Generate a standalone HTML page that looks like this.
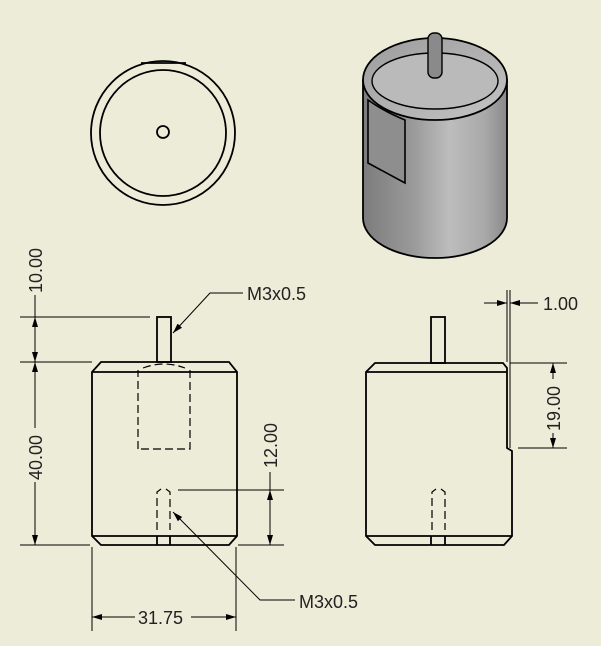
<!DOCTYPE html>
<html><head><meta charset="utf-8"><style>
html,body{margin:0;padding:0;background:#EDECD9;}
svg{display:block;}
text{font-family:"Liberation Sans","DejaVu Sans",sans-serif;font-size:18px;fill:#222;}
</style></head><body>
<svg width="601" height="646" viewBox="0 0 601 646" xmlns="http://www.w3.org/2000/svg">
<defs>
<marker id="a" viewBox="0 0 10 6" refX="10" refY="3" markerWidth="10" markerHeight="6" orient="auto-start-reverse" markerUnits="userSpaceOnUse"><path d="M0,0 L10,3 L0,6 z" fill="#000"/></marker>
<linearGradient id="cyl" x1="0" x2="1" y1="0" y2="0">
<stop offset="0" stop-color="#7c7c7c"/><stop offset="0.35" stop-color="#9a9a9a"/><stop offset="0.6" stop-color="#bdbdbd"/><stop offset="0.85" stop-color="#a8a8a8"/><stop offset="1" stop-color="#8a8a8a"/></linearGradient>
<linearGradient id="top" x1="0" x2="1" y1="0" y2="1"><stop offset="0" stop-color="#9c9c9c"/><stop offset="1" stop-color="#c4c4c4"/></linearGradient>
</defs>
<g fill="none" stroke="#000" stroke-width="1.8">
<!-- top view -->
<circle cx="163" cy="133" r="72"/>
<circle cx="163" cy="133" r="63"/>
<line x1="141" y1="63" x2="186" y2="63"/>
<circle cx="163" cy="132" r="6"/>

<!-- iso view -->
<path d="M363,80 L363,218 A72,40 0 0 0 507,218 L507,80 Z" fill="url(#cyl)"/>
<path d="M363,80 A72,42 0 0 1 507,80 A72,40 0 0 1 363,80 Z" fill="url(#top)"/>
<ellipse cx="435" cy="81" rx="63" ry="28" fill="#bababa" stroke-width="1.4"/>
<path d="M368,100 L368,163 L405,183 L405,120 Q385,112 368,100 Z" fill="#8e8e8e" stroke-width="1.6"/>
<rect x="428" y="33" width="14" height="45" rx="6" fill="#8a8a8a" stroke-width="1.4"/>

<!-- front view -->
<path d="M101,362 L229,362 L237,372 L237,536 L229,545 L101,545 L92,536 L92,372 Z"/>
<line x1="92" y1="372" x2="237" y2="372"/>
<line x1="92" y1="536" x2="237" y2="536"/>
<rect x="157" y="317" width="14" height="45"/>
<line x1="157" y1="536" x2="157" y2="545"/><line x1="170" y1="536" x2="170" y2="545"/>
</g>
<g fill="none" stroke="#000" stroke-width="1.2" stroke-dasharray="8,4">
<path d="M138,449 L138,370 M190,370 L190,449 L138,449"/>
<path d="M143,368 Q164,360 185,368"/>
<path d="M157,530 L157,492 L161,489 M166,489 L170,492 L170,530"/>
<path d="M432,530 L432,492 L436,489 M441,489 L445,492 L445,530"/>
</g>
<g fill="none" stroke="#000" stroke-width="1.8">
<!-- side view -->
<path d="M375,363 L503,363 L507,368 L507,448 L512,451 L512,536 L504,545 L375,545 L366,536 L366,372 Z"/>
<line x1="366" y1="372" x2="507" y2="372"/>
<line x1="366" y1="536" x2="512" y2="536"/>
<rect x="431" y="317" width="14" height="46"/>
<line x1="431" y1="536" x2="431" y2="545"/><line x1="445" y1="536" x2="445" y2="545"/>
</g>
<g fill="none" stroke="#000" stroke-width="1">
<line x1="20" y1="317" x2="150" y2="317"/>
<line x1="20" y1="362" x2="92" y2="362"/>
<line x1="20" y1="545" x2="90" y2="545"/>
<line x1="35" y1="295" x2="35" y2="317" />
<line x1="35" y1="317" x2="35" y2="362" marker-start="url(#a)" marker-end="url(#a)"/>
<line x1="35" y1="362" x2="35" y2="428" marker-start="url(#a)"/>
<line x1="35" y1="482" x2="35" y2="545" marker-end="url(#a)"/>
<line x1="178" y1="490" x2="284" y2="490"/>
<line x1="238" y1="545" x2="284" y2="545"/>
<line x1="270" y1="472" x2="270" y2="490"/>
<line x1="270" y1="490" x2="270" y2="545" marker-start="url(#a)" marker-end="url(#a)"/>
<line x1="92" y1="547" x2="92" y2="631"/>
<line x1="236" y1="547" x2="236" y2="631"/>
<line x1="92" y1="617" x2="135" y2="617" marker-start="url(#a)"/>
<line x1="191" y1="617" x2="236" y2="617" marker-end="url(#a)"/>
<polyline points="243,293 210,293 173,333" marker-end="url(#a)"/>
<polyline points="295,600 260,600 173,512" marker-end="url(#a)"/>
<line x1="507" y1="290" x2="507" y2="362"/>
<line x1="510" y1="290" x2="510" y2="448"/>
<line x1="484" y1="303" x2="507" y2="303" marker-end="url(#a)"/>
<line x1="538" y1="303" x2="510" y2="303" marker-end="url(#a)"/>
<line x1="510" y1="363" x2="567" y2="363"/>
<line x1="518" y1="448" x2="567" y2="448"/>
<line x1="553" y1="363" x2="553" y2="379" marker-start="url(#a)"/>
<line x1="553" y1="433" x2="553" y2="448" marker-end="url(#a)"/>
</g>
<text x="247" y="300">M3x0.5</text>
<text x="299" y="608">M3x0.5</text>
<text x="138" y="624">31.75</text>
<text x="543" y="310">1.00</text>
<text transform="translate(42,293) rotate(-90)">10.00</text>
<text transform="translate(42,480) rotate(-90)">40.00</text>
<text transform="translate(277,468) rotate(-90)">12.00</text>
<text transform="translate(560,431) rotate(-90)">19.00</text>
</svg>
</body></html>
